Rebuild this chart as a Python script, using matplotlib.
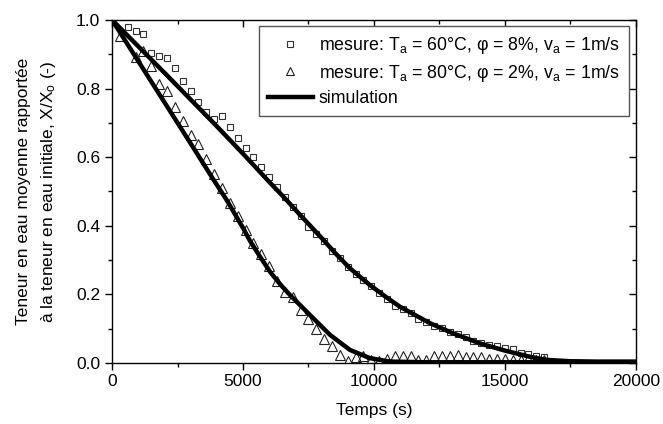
import matplotlib
matplotlib.use("Agg")
import matplotlib.pyplot as plt
from matplotlib.ticker import MultipleLocator

plt.rcParams['font.family'] = ['Liberation Sans', 'DejaVu Sans']
plt.rcParams['mathtext.fontset'] = 'custom'
plt.rcParams['mathtext.rm'] = 'Liberation Sans'
plt.rcParams['mathtext.it'] = 'Liberation Sans'

# Measurements, 60 °C
t_60 = [0, 600, 900, 1200, 1500, 1800, 2100, 2400, 2700, 3000, 3300, 3600, 3900, 4200,
        4500, 4800, 5100, 5400, 5700, 6000, 6300, 6600, 6900, 7200, 7500, 7800, 8100,
        8400, 8700, 9000, 9300, 9600, 9900, 10200, 10500, 10800, 11100, 11400, 11700,
        12000, 12300, 12600, 12900, 13200, 13500, 13800, 14100, 14400, 14700, 15000,
        15300, 15600, 15900, 16200, 16500]
x_60 = [1.0, 0.979, 0.968, 0.958, 0.903, 0.895, 0.890, 0.859, 0.823, 0.793, 0.762, 0.732,
        0.710, 0.719, 0.689, 0.656, 0.626, 0.600, 0.571, 0.542, 0.512, 0.483, 0.456, 0.428,
        0.397, 0.375, 0.355, 0.325, 0.305, 0.280, 0.260, 0.241, 0.224, 0.203, 0.185, 0.166,
        0.156, 0.145, 0.128, 0.120, 0.109, 0.101, 0.091, 0.085, 0.075, 0.065, 0.057, 0.052,
        0.050, 0.043, 0.040, 0.030, 0.025, 0.020, 0.017]

# Measurements, 80 °C
t_80 = [0, 300, 900, 1200, 1500, 1800, 2100, 2400, 2700, 3000, 3300, 3600, 3900, 4200,
        4500, 4800, 5100, 5400, 5700, 6000, 6300, 6600, 6900, 7200, 7500, 7800, 8100,
        8400, 8700, 9000, 9300, 9600, 9900, 10200, 10500, 10800, 11100, 11400, 11700,
        12000, 12300, 12600, 12900, 13200, 13500, 13800, 14100, 14400, 14700, 15000,
        15300, 15600, 15900, 16200, 16500]
x_80 = [1.0, 0.953, 0.893, 0.908, 0.866, 0.813, 0.793, 0.747, 0.706, 0.665, 0.638, 0.595,
        0.551, 0.509, 0.466, 0.427, 0.388, 0.351, 0.318, 0.282, 0.240, 0.208, 0.191, 0.155,
        0.127, 0.098, 0.070, 0.050, 0.023, 0.005, 0.018, 0.021, 0.010, 0.007, 0.012, 0.020,
        0.021, 0.020, 0.010, 0.009, 0.020, 0.021, 0.021, 0.022, 0.018, 0.017, 0.016, 0.011,
        0.012, 0.012, 0.010, 0.010, 0.011, 0.009, 0.010]

# Simulation curves
ts_60 = [0, 1000, 2000, 3000, 4000, 5000, 6000, 6600, 7200, 8066, 8500, 9084, 9847, 10500,
         10992, 12137, 13000, 14046, 15000, 15954, 16590, 17500, 18500, 20000]
xs_60 = [1.0, 0.923, 0.846, 0.768, 0.690, 0.610, 0.528, 0.480, 0.430, 0.359, 0.322, 0.276,
         0.227, 0.190, 0.164, 0.116, 0.087, 0.057, 0.036, 0.018, 0.009, 0.005, 0.004, 0.004]
ts_80 = [0, 1000, 2000, 3000, 3868, 4377, 5013, 5267, 5650, 6031, 6400, 6794, 7557, 8321,
         9084, 9847, 10611, 12000, 20000]
xs_80 = [1.0, 0.880, 0.760, 0.640, 0.535, 0.475, 0.392, 0.356, 0.310, 0.266, 0.231, 0.198,
         0.140, 0.082, 0.038, 0.014, 0.004, 0.002, 0.002]

lab_60 = r"mesure: T$_{\mathregular{a}}$ = 60°C, φ = 8%, v$_{\mathregular{a}}$ = 1m/s"
lab_80 = r"mesure: T$_{\mathregular{a}}$ = 80°C, φ = 2%, v$_{\mathregular{a}}$ = 1m/s"

fig = plt.figure(figsize=(6.63, 4.24), dpi=100)
ax = fig.add_axes([0.169, 0.144, 0.790, 0.809])

ax.plot(t_60, x_60, linestyle='none', marker='s', markersize=4.6, mfc='none',
        mec='#333333', mew=0.8, label=lab_60, zorder=2)
ax.plot(t_80, x_80, linestyle='none', marker='^', markersize=6.5, mfc='none',
        mec='#222222', mew=0.8, label=lab_80, zorder=2)
ax.plot(ts_60, xs_60, color='black', lw=3.2, label='simulation', zorder=3,
        solid_joinstyle='round')
ax.plot(ts_80, xs_80, color='black', lw=3.2, zorder=3, solid_joinstyle='round')

ax.set_xlim(0, 20000)
ax.set_ylim(0, 1.0)
ax.xaxis.set_major_locator(MultipleLocator(5000))
ax.xaxis.set_minor_locator(MultipleLocator(2500))
ax.yaxis.set_major_locator(MultipleLocator(0.2))
ax.yaxis.set_minor_locator(MultipleLocator(0.1))
ax.yaxis.set_major_formatter(matplotlib.ticker.FormatStrFormatter('%.1f'))

ax.tick_params(which='major', direction='out', length=5, width=1, labelsize=12.5,
               top=True, right=True)
ax.tick_params(which='minor', direction='out', length=3, width=1, top=True, right=True)
ax.tick_params(axis='x', which='major', pad=3)
ax.tick_params(axis='both', which='both', labeltop=False, labelright=False)
# top/right ticks point inward
for tk in ax.xaxis.get_major_ticks() + ax.xaxis.get_minor_ticks():
    tk.tick2line.set_marker(matplotlib.lines.TICKDOWN)
for tk in ax.yaxis.get_major_ticks() + ax.yaxis.get_minor_ticks():
    tk.tick2line.set_marker(matplotlib.lines.TICKLEFT)

for sp in ax.spines.values():
    sp.set_linewidth(1.0)

ax.set_xlabel('Temps (s)', fontsize=12.5, labelpad=10)
ax.set_ylabel('Teneur en eau moyenne rapportée\nà la teneur en eau initiale, X/X$_{\\mathregular{o}}$ (-)',
              fontsize=12.5, labelpad=13, linespacing=1.55)

leg = ax.legend(loc='upper right', bbox_to_anchor=(0.9866, 0.9825), borderaxespad=0,
                fontsize=12.8, frameon=True, fancybox=False, edgecolor='#555555',
                framealpha=1, handlelength=2.5, handletextpad=0.35, borderpad=0.5,
                labelspacing=0.38, markerscale=0.9)
leg.get_frame().set_linewidth(1.0)

fig.savefig('out.png', dpi=100)
